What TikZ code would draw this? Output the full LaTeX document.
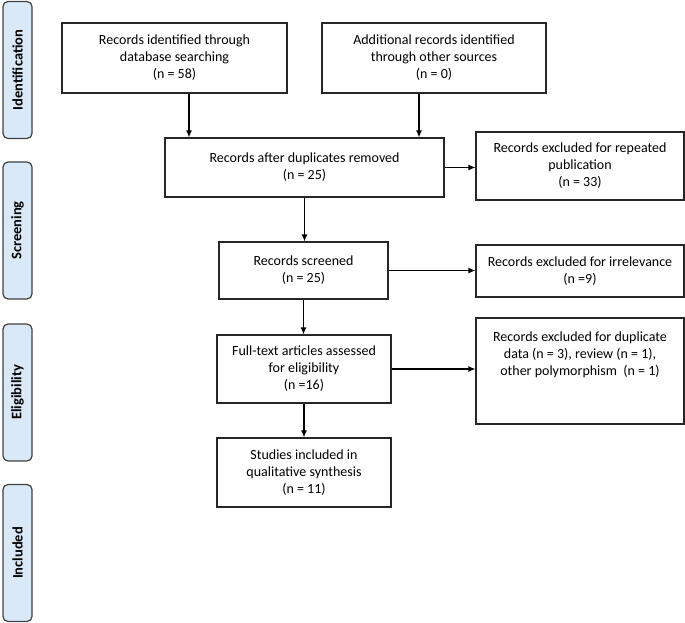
\documentclass[tikz,border=0pt]{standalone}
\usepackage{fontspec}
\setmainfont{Carlito}
\usetikzlibrary{arrows.meta}
\definecolor{stagefill}{HTML}{D9E9F8}
\begin{document}
\begin{tikzpicture}[x=1pt, y=-1pt,
    box/.style={draw=black!85, line width=1.2pt, align=center, inner sep=1pt,
      font=\fontsize{14}{17}\selectfont},
    stage/.style={draw=black!75, line width=1.2pt, fill=stagefill, rounded corners=5pt,
      rotate=90, minimum width=137pt, minimum height=29pt, inner sep=1pt,
      font=\bfseries\fontsize{14.5}{16}\selectfont},
    arr/.style={-{Latex[length=7pt,width=6pt]}, line width=1.2pt}]
    \useasboundingbox (0,0) rectangle (685,623);
    \foreach \y/\t in {70/Identification, 230.5/Screening, 392.5/Eligibility, 553/Included} {
        \node[stage] (stage-\t) at (17.5,\y) {\t};
    }
    \node[box, minimum width=225pt, minimum height=70pt] (ident) at (174.5,58)
        {Records identified through\\database searching\\(n = 58)};
    \node[box, minimum width=224pt, minimum height=70pt] (other) at (434,58)
        {Additional records identified\\through other sources\\(n = 0)};
    \node[box, minimum width=279pt, minimum height=59pt] (dupl) at (304.5,167.5)
        {Records after duplicates removed\\(n = 25)};
    \node[box, minimum width=208pt, minimum height=68pt] (repeated) at (580,166)
        {Records excluded for repeated\\publication\\(n = 33)};
    \node[box, minimum width=169pt, minimum height=57pt] (screened) at (303.5,270.5)
        {Records screened\\(n = 25)};
    \node[box, minimum width=208pt, minimum height=52pt] (irrel) at (580,271)
        {Records excluded for irrelevance\\(n =9)};
    \node[box, minimum width=174pt, minimum height=68pt] (fulltext) at (304,369)
        {Full-text articles assessed\\for eligibility\\(n =16)};
    \node[box, minimum width=208pt, minimum height=106pt] (dupdata) at (580,371)
        {Records excluded for duplicate\\data (n = 3), review (n = 1),\\other polymorphism\ \ (n = 1)\\\mbox{}\\\mbox{}};
    \node[box, minimum width=174pt, minimum height=69pt] (studies) at (304,472.5)
        {Studies included in\\qualitative synthesis\\(n = 11)};
    \coordinate (left-in) at (189,0);
    \coordinate (right-in) at (419,0);
    \draw[arr] (ident.south -| left-in) -- (dupl.north -| left-in);
    \draw[arr] (other.south -| right-in) -- (dupl.north -| right-in);
    \draw[arr] (dupl.east) -- (dupl.east -| repeated.west);
    \draw[arr] (dupl.south) -- (dupl.south |- screened.north);
    \draw[arr] (screened.east) -- (screened.east -| irrel.west);
    \draw[arr] (screened.south) -- (screened.south |- fulltext.north);
    \draw[arr] (fulltext.east) -- (fulltext.east -| dupdata.west);
    \draw[arr] (fulltext.south) -- (studies.north);
\end{tikzpicture}
\end{document}
